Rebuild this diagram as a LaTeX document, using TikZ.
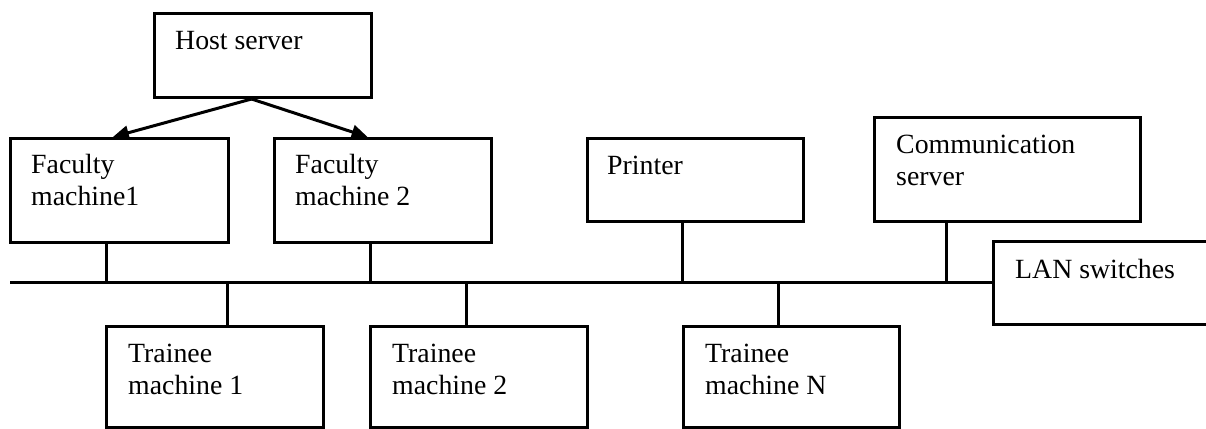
\documentclass[tikz,border=0pt]{standalone}
\usepackage{fontspec}
\setmainfont{Liberation Serif}
\usetikzlibrary{arrows.meta,calc}
\newcommand\twoln[2]{\vtop{\hbox{#1}\hbox{#2}}}
\tikzset{
  box/.style={draw=black, line width=3pt, rectangle, inner sep=0pt, anchor=north west},
  lbl/.style={anchor=base west, inner sep=0pt, font=\fontsize{27.8pt}{32pt}\selectfont},
  wire/.style={draw=black, line width=3pt},
  arr/.style={draw=black, line width=3pt, -{Triangle[length=16pt,width=14pt]}},
}
\begin{document}
\begin{tikzpicture}[x=1pt,y=-1pt]
\useasboundingbox (0,0) rectangle (1206,428);
% boxes
\node[box, minimum width=217pt, minimum height=84pt]  (host) at (153,12) {};
\node[box, minimum width=218pt, minimum height=104pt] (fac1) at (9,137) {};
\node[box, minimum width=217pt, minimum height=104pt] (fac2) at (273,137) {};
\node[box, minimum width=216pt, minimum height=83pt]  (prn)  at (586,137) {};
\node[box, minimum width=266pt, minimum height=104pt] (comm) at (873,116) {};
\node[box, minimum width=217pt, minimum height=101pt] (tr1)  at (105,325) {};
\node[box, minimum width=217pt, minimum height=101pt] (tr2)  at (369,325) {};
\node[box, minimum width=216pt, minimum height=101pt] (trn)  at (682,325) {};
% labels
\node[lbl] (hostt) at ([xshift=22pt,yshift=-37pt]host.north west) {Host server};
\node[lbl] (fac1t) at ([xshift=22pt,yshift=-36pt]fac1.north west) {\twoln{Faculty}{machine1}};
\node[lbl] (fac2t) at ([xshift=22pt,yshift=-36pt]fac2.north west) {\twoln{Faculty}{machine 2}};
\node[lbl] (prnt)  at ([xshift=21pt,yshift=-37pt]prn.north west) {Printer};
\node[lbl] (commt) at ([xshift=23pt,yshift=-37pt]comm.north west) {\twoln{Communication}{server}};
\node[lbl] (tr1t)  at ([xshift=23pt,yshift=-37pt]tr1.north west) {\twoln{Trainee}{machine 1}};
\node[lbl] (tr2t)  at ([xshift=23pt,yshift=-37pt]tr2.north west) {\twoln{Trainee}{machine 2}};
\node[lbl] (trnt)  at ([xshift=23pt,yshift=-37pt]trn.north west) {\twoln{Trainee}{machine N}};
% LAN switches (open to the right)
\coordinate (lantr) at (1206,241);
\coordinate (lantl) at (993,241);
\coordinate (lanbl) at (993,324);
\coordinate (lanbr) at (1206,324);
\draw[wire] (lantr) -- (lantl) -- (lanbl) -- (lanbr);
\node[lbl] (lan) at (1015,278) {LAN switches};
% bus
\coordinate (busl) at (10,282);
\coordinate (busr) at (lantl |- busl);
\draw[wire] (busl) -- (busr);
% drops
\coordinate (d1) at (106,282);
\coordinate (d2) at (370,282);
\coordinate (d3) at (227,282);
\coordinate (d4) at (466,282);
\coordinate (d5) at (682,282);
\coordinate (d6) at (778,282);
\coordinate (d7) at (946,282);
\draw[wire] (d1 |- fac1.south) -- (d1);
\draw[wire] (d2 |- fac2.south) -- (d2);
\draw[wire] (d3 |- tr1.north) -- (d3);
\draw[wire] (d4 |- tr2.north) -- (d4);
\draw[wire] (d5 |- prn.south) -- (d5);
\draw[wire] (d6 |- trn.north) -- (d6);
\draw[wire] (d7 |- comm.south) -- (d7);
% arrows
\coordinate (hs) at ($(host.south west)!0.448!(host.south east)$);
\draw[arr] (hs) -- ($(fac1.north west)!0.47!(fac1.north east)$);
\draw[arr] (hs) -- ($(fac2.north west)!0.43!(fac2.north east)$);
\end{tikzpicture}
\end{document}
